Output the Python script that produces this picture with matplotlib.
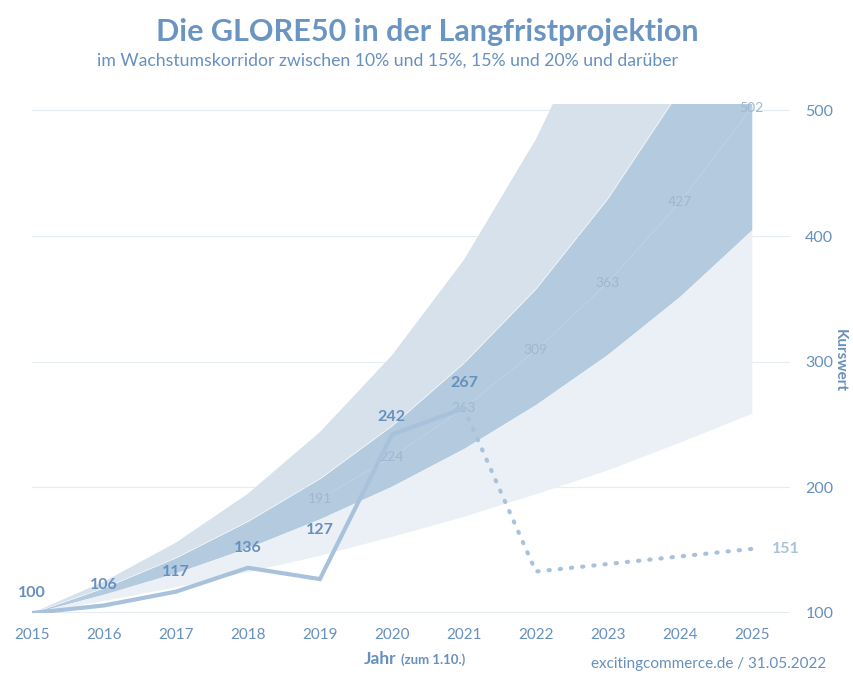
import matplotlib
matplotlib.use("Agg")
import matplotlib.pyplot as plt

plt.rcParams['font.family'] = ['Lato', 'DejaVu Sans']

# ---- data ----
years = [2015, 2016, 2017, 2018, 2019, 2020, 2021, 2022, 2023, 2024, 2025]
year_labels = [str(y) for y in years]
band10 = [100, 110, 121, 133, 146, 161, 177, 195, 214, 236, 259]
band15 = [100, 115, 132, 152, 175, 201, 231, 266, 306, 352, 405]
band20 = [100, 120, 144, 173, 207, 249, 299, 358, 430, 516, 619]
band25 = [100, 125, 156, 195, 244, 305, 381, 477, 596, 745, 931]

proj_years = [2019, 2020, 2021, 2022, 2023, 2024, 2025]
proj_values = [191, 224, 263, 309, 363, 427, 502]

actual_years = [2015, 2016, 2017, 2018, 2019, 2020, 2021]
actual_values = [100, 106, 117, 136, 127, 242, 263]
actual_labels = [100, 106, 117, 136, 127, 242, 267]

fc_years = [2021, 2022, 2023, 2024, 2025]
fc_values = [263, 133, 139, 145, 151]
fc_label = 151

y_ticks = [100, 200, 300, 400, 500]

# ---- style ----
C_TXT = '#6690bd'
C_LINE = '#a9c2dc'
C_PROJ = '#9fb7cf'

fig = plt.figure(figsize=(8.54, 6.76), dpi=100)
ax = fig.add_axes([0.0375, 0.0932, 0.8875, 0.7528])

ax.fill_between(years, band20, band25, color='#d6e1ec', lw=0, zorder=1)
ax.fill_between(years, band15, band20, color='#b4cadf', lw=0, zorder=1)
ax.fill_between(years, band10, band15, color='#ebf0f6', lw=0, zorder=1)

for y in y_ticks[1:]:
    ax.axhline(y, color='#e6ecf3', lw=0.8, zorder=0.5)
ax.axhline(100, color='#dfe7f0', lw=1.2, zorder=0.5)

# projection line + labels
ax.plot(proj_years, proj_values, color='#c3d3e3', lw=0.6, zorder=2)
for x, v in zip(proj_years, proj_values):
    ax.text(x, v, str(v), ha='center', va='center', fontsize=10, color=C_PROJ, zorder=3)

# actual line
ax.plot(actual_years, actual_values, color=C_LINE, lw=3, solid_joinstyle='miter', zorder=4)
offs = [20, 20, 20, 20, 49, 18, 25]
for x, v, lab, o in zip(actual_years, actual_values, actual_labels, offs):
    ax.annotate(str(lab), (x, v), xytext=(0, o), textcoords='offset pixels',
                ha='center', va='center', fontsize=11.5, fontweight='bold', color=C_TXT, zorder=5)

# forecast dotted
ax.plot(fc_years, fc_values, color=C_LINE, lw=3, linestyle=(0, (0.3, 2.4)),
        dash_capstyle='round', zorder=4)
ax.annotate(str(fc_label), (fc_years[-1], fc_values[-1]), xytext=(34, 0), textcoords='offset pixels',
            ha='center', va='center', fontsize=11.5, fontweight='bold', color='#a9c2dc')

ax.set_xlim(2015, 2025.53)
ax.set_ylim(100, 505)
ax.set_xticks(years)
ax.set_xticklabels(year_labels)
ax.yaxis.tick_right()
ax.set_yticks(y_ticks)
ax.tick_params(axis='x', length=0, pad=11, labelsize=11, labelcolor=C_TXT)
ax.tick_params(axis='y', length=0, pad=11, labelsize=11.5, labelcolor=C_TXT)
for s in ax.spines.values():
    s.set_visible(False)

fig.text(0.5, 0.953, 'Die GLORE50 in der Langfristprojektion', ha='center', va='center',
         fontsize=22, fontweight='bold', color='#6a95c2')
fig.text(0.454, 0.91, 'im Wachstumskorridor zwischen 10% und 15%, 15% und 20% und darüber',
         ha='center', va='center', fontsize=12.7, color=C_TXT)
fig.text(0.983, 0.467, 'Kurswert', rotation=270, ha='center', va='center',
         fontsize=11, fontweight='bold', color=C_TXT)
fig.text(0.464, 0.018, 'Jahr', ha='right', va='baseline', fontsize=12.5, fontweight='bold', color=C_TXT)
fig.text(0.469, 0.018, '(zum 1.10.)', ha='left', va='baseline', fontsize=9.5, fontweight='bold', color=C_TXT)
fig.text(0.967, 0.012, 'excitingcommerce.de / 31.05.2022', ha='right', va='baseline',
         fontsize=11, color=C_TXT)

fig.savefig('out.png', dpi=100)
